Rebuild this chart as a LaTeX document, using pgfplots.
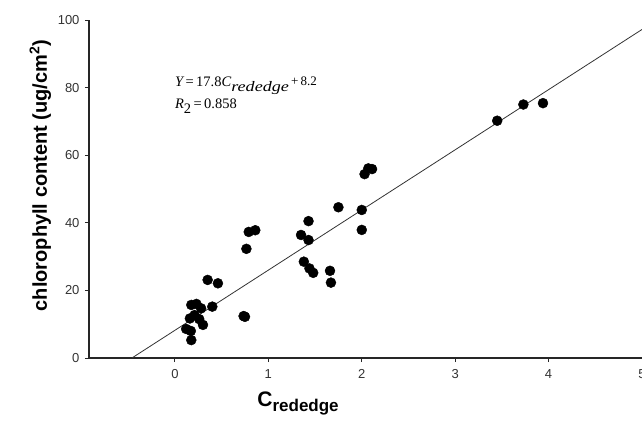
\documentclass[border=0pt]{standalone}
\usepackage{fontspec}
\setmainfont{Liberation Sans}
\newfontfamily\tnr{Liberation Serif}
\usepackage{pgfplots}
\pgfplotsset{compat=1.18}

\begin{document}
\begin{tikzpicture}
\begin{axis}[
  scale only axis,
  width=553pt, height=338pt,
  xmin=-0.92, xmax=5, ymin=0, ymax=100,
  axis x line*=bottom, axis y line*=left,
  axis line style={line width=1.1pt, black!85},
  xtick={0,1,2,3,4,5}, ytick={0,20,40,60,80,100},
  tick align=outside, major tick length=4pt,
  tick style={line width=1pt, black!85},
  tick label style={font=\fontsize{13}{14}\selectfont, text=black!80},
  xticklabel style={yshift=-4pt},
  yticklabel style={xshift=-2pt},
  /pgf/number format/assume math mode=true,
  xlabel={\fontsize{21}{22}\selectfont\bfseries C\raisebox{-4.5pt}{\fontsize{17}{18}\selectfont rededge}},
  xlabel style={at={(axis description cs:0.378,-0.135)}, anchor=center},
  ylabel={\fontsize{20}{21}\selectfont\bfseries chlorophyll content (ug/cm\textsuperscript{2})},
  ylabel style={at={(axis description cs:-0.088,0.54)}, anchor=center},
]
\addplot[only marks, mark=*, mark size=5pt, black] coordinates {
 (0.175,5.3)(0.12,8.6)(0.17,8.0)(0.16,11.7)(0.175,15.7)(0.23,16.0)
 (0.21,12.7)(0.28,14.7)(0.26,11.5)(0.30,9.8)(0.35,23.1)(0.40,15.2)
 (0.46,22.1)(0.735,12.4)(0.75,12.2)(0.765,32.3)(0.79,37.3)(0.86,37.8)
 (1.35,36.4)(1.43,40.5)(1.43,34.9)(1.38,28.5)(1.44,26.5)(1.48,25.2)
 (1.66,25.8)(1.67,22.3)(1.75,44.6)(2.0,43.8)(2.0,37.9)(2.03,54.4)
 (2.07,56.1)(2.11,55.9)(3.45,70.2)(3.73,75.0)(3.94,75.4)
};
\addplot[line width=0.8pt, black!80] coordinates {(-0.4607,0)(5,97.2)};
\node[anchor=base west, font=\tnr\fontsize{14.5}{16}\selectfont, inner sep=0pt]
  at (axis cs:0,80.2)
  {\itshape Y\upshape\,=\,17.8\itshape C\raisebox{-5pt}{\scalebox{1.25}[1]{rededge}}\upshape\raisebox{1.5pt}{\fontsize{13}{14}\selectfont\,+\,8.2}};
\node[anchor=base west, font=\tnr\fontsize{14.5}{16}\selectfont, inner sep=0pt]
  at (axis cs:0,73.8)
  {\itshape R\upshape\raisebox{-4.5pt}{2}\,=\,0.858};
\end{axis}
\pgfresetboundingbox
\path[use as bounding box] (-89pt,-63pt) rectangle (553pt,358pt);
\end{tikzpicture}
\end{document}
